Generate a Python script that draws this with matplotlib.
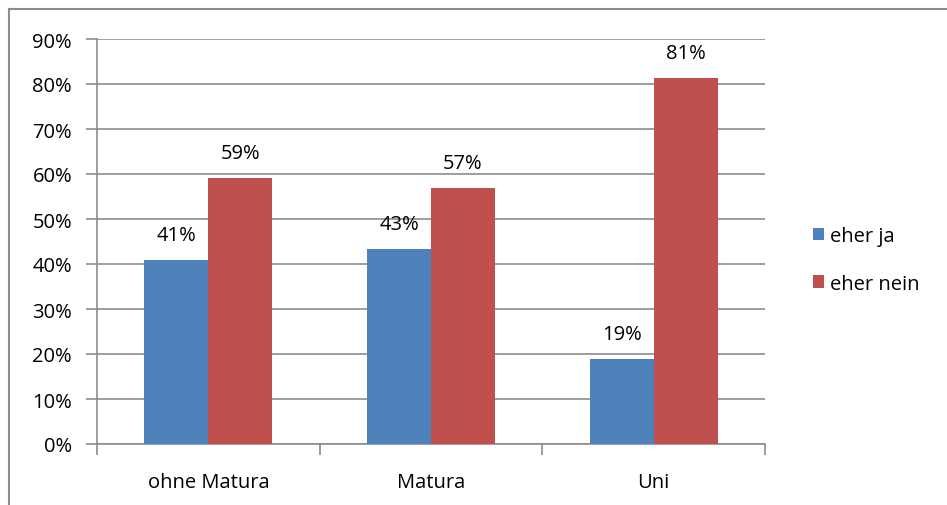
import matplotlib
matplotlib.use("Agg")
import matplotlib.pyplot as plt
from matplotlib.patches import Patch
from matplotlib.lines import Line2D
import numpy as np

categories = ["ohne Matura", "Matura", "Uni"]
eher_ja = [40.9, 43.3, 18.9]
eher_nein = [59.1, 56.9, 81.3]
series_names = ["eher ja", "eher nein"]
yticks = [0, 10, 20, 30, 40, 50, 60, 70, 80, 90]

blue = "#4F81BD"
red = "#C0504D"
grid_c = "#8C8C8C"

plt.rcParams['font.family'] = ['Open Sans', 'DejaVu Sans']
FS = 14.5

W, H = 947, 506
fig = plt.figure(figsize=(W/100, H/100), dpi=100)
ax = fig.add_axes([97/W, 1-445/H, (765-97)/W, (445-40)/H])

x = np.arange(len(categories))
bw = 0.287
b1 = ax.bar(x - bw/2, eher_ja, bw, color=blue, label=series_names[0], zorder=3)
b2 = ax.bar(x + bw/2, eher_nein, bw, color=red, label=series_names[1], zorder=3)

for bars, vals in ((b1, eher_ja), (b2, eher_nein)):
    for r, v in zip(bars, vals):
        ax.annotate(f"{round(v)}%", (r.get_x() + r.get_width()/2, v),
                    xytext=(0, 18), textcoords="offset points", ha="center",
                    va="center", fontsize=FS, color="#000000")

ax.set_xlim(-0.5, 2.5)
ax.set_ylim(0, 90)
ax.set_yticks(yticks)
ax.set_yticklabels([f"{t}%" for t in yticks], fontsize=FS)
ax.yaxis.grid(True, color=grid_c, linewidth=1.2, zorder=0)
ax.set_axisbelow(True)

ax.set_xticks(x)
ax.set_xticklabels(categories, fontsize=FS)
ax.tick_params(axis='x', length=0, pad=20)
ax.set_xticks([-0.5, 0.5, 1.5, 2.5], minor=True)
ax.tick_params(axis='x', which='minor', length=8, color=grid_c, width=1.2)
ax.tick_params(axis='y', length=8, color=grid_c, width=1.2, pad=10)

for s in ["top", "right"]:
    ax.spines[s].set_visible(False)
for s in ["left", "bottom"]:
    ax.spines[s].set_color(grid_c)
    ax.spines[s].set_linewidth(1.2)

handles = [Patch(facecolor=blue, label=series_names[0]),
           Patch(facecolor=red, label=series_names[1])]
fig.legend(handles=handles, loc="center left", bbox_to_anchor=(795/W, 1-261/H),
           frameon=False, fontsize=FS, handlelength=0.55, handleheight=0.55,
           handletextpad=0.3, labelspacing=1.35)

# outer chart border
fig.add_artist(Line2D([9/W, 1], [1-10/H, 1-10/H], color="#8C8C8C", linewidth=1.5,
                      transform=fig.transFigure))
fig.add_artist(Line2D([9/W, 9/W], [0, 1-10/H], color="#8C8C8C", linewidth=1.5,
                      transform=fig.transFigure))

fig.savefig("out.png", dpi=100)
